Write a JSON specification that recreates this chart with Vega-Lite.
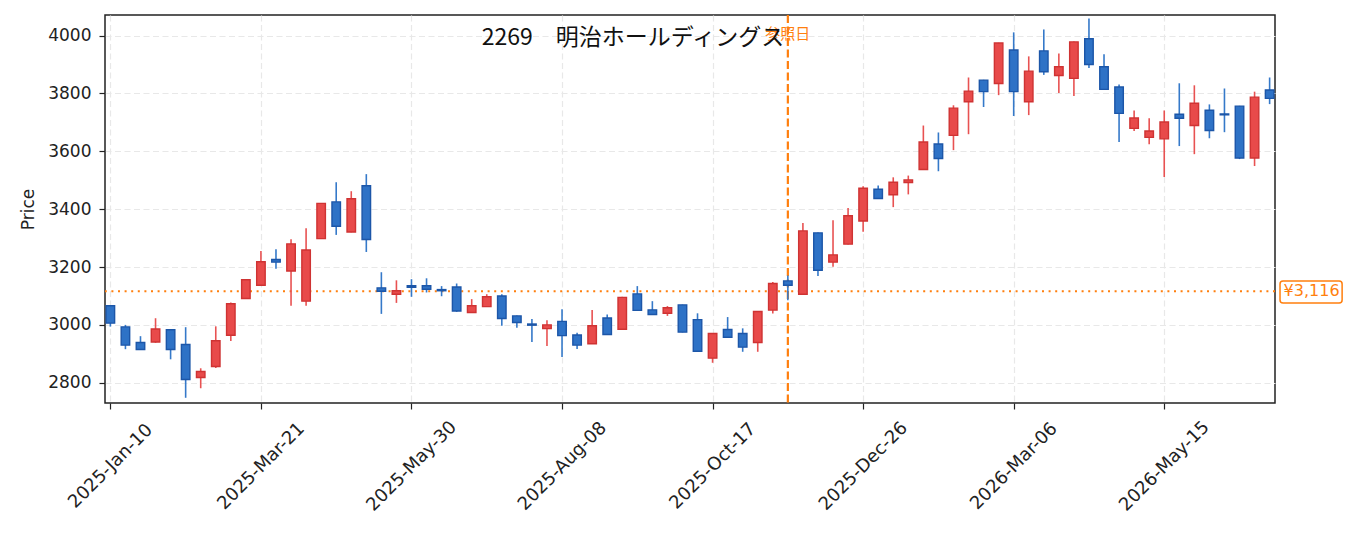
{
  "$schema": "https://vega.github.io/schema/vega-lite/v6.json",
  "width": 1170,
  "height": 388,
  "autosize": "none",
  "padding": {"left": 105, "top": 15, "right": 80, "bottom": 130},
  "background": "white",
  "title": {
    "text": "2269　明治ホールディングス",
    "font": "Noto Sans CJK JP",
    "fontSize": 23,
    "fontWeight": "normal",
    "color": "#111111",
    "anchor": "middle",
    "baseline": "middle",
    "dx": -57,
    "dy": 25,
    "offset": -22
  },
  "datasets": {
    "candles": [
      {"date": "2025-01-10", "open": 3066, "high": 3068, "low": 2994, "close": 3006},
      {"date": "2025-01-17", "open": 2993, "high": 3000, "low": 2916, "close": 2930},
      {"date": "2025-01-24", "open": 2939, "high": 2961, "low": 2914, "close": 2915},
      {"date": "2025-01-31", "open": 2941, "high": 3023, "low": 2938, "close": 2986},
      {"date": "2025-02-07", "open": 2983, "high": 2985, "low": 2881, "close": 2915},
      {"date": "2025-02-14", "open": 2932, "high": 2992, "low": 2748, "close": 2811},
      {"date": "2025-02-21", "open": 2818, "high": 2850, "low": 2781, "close": 2839},
      {"date": "2025-02-28", "open": 2856, "high": 2995, "low": 2851, "close": 2945},
      {"date": "2025-03-07", "open": 2964, "high": 3077, "low": 2944, "close": 3073},
      {"date": "2025-03-14", "open": 3091, "high": 3157, "low": 3090, "close": 3156},
      {"date": "2025-03-21", "open": 3137, "high": 3255, "low": 3136, "close": 3218},
      {"date": "2025-03-28", "open": 3226, "high": 3261, "low": 3194, "close": 3217},
      {"date": "2025-04-04", "open": 3186, "high": 3296, "low": 3066, "close": 3280},
      {"date": "2025-04-11", "open": 3082, "high": 3334, "low": 3066, "close": 3259},
      {"date": "2025-04-18", "open": 3298, "high": 3421, "low": 3297, "close": 3420},
      {"date": "2025-04-25", "open": 3425, "high": 3493, "low": 3311, "close": 3341},
      {"date": "2025-05-02", "open": 3321, "high": 3462, "low": 3320, "close": 3436},
      {"date": "2025-05-09", "open": 3481, "high": 3521, "low": 3252, "close": 3295},
      {"date": "2025-05-16", "open": 3128, "high": 3182, "low": 3038, "close": 3116},
      {"date": "2025-05-23", "open": 3106, "high": 3154, "low": 3076, "close": 3118},
      {"date": "2025-05-30", "open": 3135, "high": 3158, "low": 3097, "close": 3130},
      {"date": "2025-06-06", "open": 3135, "high": 3161, "low": 3112, "close": 3123},
      {"date": "2025-06-13", "open": 3122, "high": 3134, "low": 3099, "close": 3118},
      {"date": "2025-06-20", "open": 3131, "high": 3143, "low": 3045, "close": 3048},
      {"date": "2025-06-27", "open": 3043, "high": 3089, "low": 3042, "close": 3066},
      {"date": "2025-07-04", "open": 3063, "high": 3106, "low": 3062, "close": 3097},
      {"date": "2025-07-11", "open": 3100, "high": 3106, "low": 2997, "close": 3022},
      {"date": "2025-07-18", "open": 3031, "high": 3032, "low": 2990, "close": 3008},
      {"date": "2025-07-25", "open": 3003, "high": 3020, "low": 2941, "close": 2999},
      {"date": "2025-08-01", "open": 2987, "high": 3016, "low": 2927, "close": 3000},
      {"date": "2025-08-08", "open": 3012, "high": 3054, "low": 2889, "close": 2963},
      {"date": "2025-08-15", "open": 2965, "high": 2973, "low": 2917, "close": 2930},
      {"date": "2025-08-22", "open": 2935, "high": 3051, "low": 2934, "close": 2997},
      {"date": "2025-08-29", "open": 3024, "high": 3036, "low": 2966, "close": 2967},
      {"date": "2025-09-05", "open": 2985, "high": 3097, "low": 2983, "close": 3095},
      {"date": "2025-09-12", "open": 3107, "high": 3134, "low": 3049, "close": 3050},
      {"date": "2025-09-19", "open": 3052, "high": 3082, "low": 3035, "close": 3036},
      {"date": "2025-09-26", "open": 3040, "high": 3065, "low": 3031, "close": 3059},
      {"date": "2025-10-03", "open": 3069, "high": 3070, "low": 2974, "close": 2975},
      {"date": "2025-10-10", "open": 3018, "high": 3040, "low": 2908, "close": 2909},
      {"date": "2025-10-17", "open": 2885, "high": 2971, "low": 2869, "close": 2970},
      {"date": "2025-10-24", "open": 2984, "high": 3027, "low": 2956, "close": 2957},
      {"date": "2025-10-31", "open": 2970, "high": 2988, "low": 2907, "close": 2923},
      {"date": "2025-11-07", "open": 2939, "high": 3047, "low": 2907, "close": 3046},
      {"date": "2025-11-14", "open": 3051, "high": 3148, "low": 3039, "close": 3143},
      {"date": "2025-11-21", "open": 3152, "high": 3171, "low": 3085, "close": 3137},
      {"date": "2025-11-28", "open": 3106, "high": 3352, "low": 3105, "close": 3325},
      {"date": "2025-12-05", "open": 3318, "high": 3319, "low": 3169, "close": 3189},
      {"date": "2025-12-12", "open": 3217, "high": 3362, "low": 3201, "close": 3242},
      {"date": "2025-12-19", "open": 3279, "high": 3404, "low": 3278, "close": 3377},
      {"date": "2025-12-26", "open": 3359, "high": 3479, "low": 3322, "close": 3472},
      {"date": "2026-01-02", "open": 3469, "high": 3482, "low": 3436, "close": 3437},
      {"date": "2026-01-09", "open": 3450, "high": 3510, "low": 3407, "close": 3493},
      {"date": "2026-01-16", "open": 3492, "high": 3516, "low": 3451, "close": 3501},
      {"date": "2026-01-23", "open": 3537, "high": 3689, "low": 3536, "close": 3632},
      {"date": "2026-01-30", "open": 3625, "high": 3665, "low": 3531, "close": 3575},
      {"date": "2026-02-06", "open": 3655, "high": 3759, "low": 3604, "close": 3749},
      {"date": "2026-02-13", "open": 3771, "high": 3855, "low": 3659, "close": 3808},
      {"date": "2026-02-20", "open": 3846, "high": 3847, "low": 3753, "close": 3806},
      {"date": "2026-02-27", "open": 3834, "high": 3975, "low": 3794, "close": 3974},
      {"date": "2026-03-06", "open": 3950, "high": 4011, "low": 3722, "close": 3806},
      {"date": "2026-03-13", "open": 3771, "high": 3928, "low": 3725, "close": 3877},
      {"date": "2026-03-20", "open": 3947, "high": 4021, "low": 3864, "close": 3875},
      {"date": "2026-03-27", "open": 3862, "high": 3938, "low": 3801, "close": 3892},
      {"date": "2026-04-03", "open": 3852, "high": 3979, "low": 3791, "close": 3978},
      {"date": "2026-04-10", "open": 3989, "high": 4059, "low": 3888, "close": 3900},
      {"date": "2026-04-17", "open": 3892, "high": 3935, "low": 3813, "close": 3814},
      {"date": "2026-04-24", "open": 3822, "high": 3831, "low": 3632, "close": 3731},
      {"date": "2026-05-01", "open": 3679, "high": 3741, "low": 3670, "close": 3715},
      {"date": "2026-05-08", "open": 3648, "high": 3714, "low": 3624, "close": 3670},
      {"date": "2026-05-15", "open": 3643, "high": 3741, "low": 3511, "close": 3701},
      {"date": "2026-05-22", "open": 3728, "high": 3835, "low": 3618, "close": 3714},
      {"date": "2026-05-29", "open": 3689, "high": 3828, "low": 3590, "close": 3766},
      {"date": "2026-06-05", "open": 3742, "high": 3762, "low": 3645, "close": 3672},
      {"date": "2026-06-12", "open": 3729, "high": 3817, "low": 3666, "close": 3726},
      {"date": "2026-06-19", "open": 3756, "high": 3757, "low": 3573, "close": 3577},
      {"date": "2026-06-26", "open": 3577, "high": 3806, "low": 3549, "close": 3787},
      {"date": "2026-07-03", "open": 3812, "high": 3855, "low": 3763, "close": 3783}
    ],
    "events": [{"date": "2025-11-21", "label": "参照日"}],
    "refs": [{"price": 3116, "label": "¥3,116"}]
  },
  "layer": [
    {
      "data": {"name": "refs"},
      "mark": {"type": "rule", "color": "#ff7f0e", "strokeWidth": 2, "strokeDash": [2, 4.6]},
      "encoding": {
        "y": {"field": "price", "type": "quantitative"}
      }
    },
    {
      "data": {"name": "events"},
      "mark": {"type": "rule", "color": "#ff7f0e", "strokeWidth": 2.2, "strokeDash": [8, 3.5]},
      "encoding": {
        "x": {"field": "date", "type": "temporal"}
      }
    },
    {
      "data": {"name": "candles"},
      "mark": {"type": "rule", "strokeWidth": 1.6},
      "encoding": {
        "x": {
          "field": "date",
          "type": "temporal",
          "title": null,
          "scale": {
            "type": "utc",
            "padding": 0,
            "domain": [
              {"year": 2025, "month": 1, "date": 7, "hours": 12, "utc": true},
              {"year": 2026, "month": 7, "date": 5, "hours": 12, "utc": true}
            ]
          },
          "axis": {
            "values": [
              {"year": 2025, "month": 1, "date": 10, "utc": true},
              {"year": 2025, "month": 3, "date": 21, "utc": true},
              {"year": 2025, "month": 5, "date": 30, "utc": true},
              {"year": 2025, "month": 8, "date": 8, "utc": true},
              {"year": 2025, "month": 10, "date": 17, "utc": true},
              {"year": 2025, "month": 12, "date": 26, "utc": true},
              {"year": 2026, "month": 3, "date": 6, "utc": true},
              {"year": 2026, "month": 5, "date": 15, "utc": true}
            ],
            "format": "%Y-%b-%d",
            "labelAngle": -45,
            "labelAlign": "center",
            "labelBaseline": "middle",
            "labelPadding": 57,
            "labelOverlap": false,
            "labelFontSize": 18
          }
        },
        "y": {
          "field": "low",
          "type": "quantitative",
          "title": "Price",
          "scale": {"domain": [2730, 4071], "nice": false, "zero": false},
          "axis": {"values": [2800, 3000, 3200, 3400, 3600, 3800, 4000], "format": "d"}
        },
        "y2": {"field": "high"},
        "color": {
          "condition": {"test": "datum.close >= datum.open", "value": "#e85252"},
          "value": "#3579c9"
        }
      }
    },
    {
      "data": {"name": "candles"},
      "mark": {"type": "bar", "size": 8.5, "strokeWidth": 1.4},
      "encoding": {
        "x": {"field": "date", "type": "temporal"},
        "y": {"field": "open", "type": "quantitative"},
        "y2": {"field": "close"},
        "fill": {
          "condition": {"test": "datum.close >= datum.open", "value": "#e84a4a"},
          "value": "#2e72c6"
        },
        "stroke": {
          "condition": {"test": "datum.close >= datum.open", "value": "#cf3333"},
          "value": "#1c56a8"
        }
      }
    },
    {
      "data": {"name": "events"},
      "mark": {"type": "text", "color": "#ff7f0e", "font": "Noto Sans CJK JP", "fontSize": 15, "align": "center", "baseline": "middle"},
      "encoding": {
        "x": {"field": "date", "type": "temporal"},
        "y": {"datum": 4006, "type": "quantitative"},
        "text": {"field": "label"}
      }
    },
    {
      "data": {"name": "refs"},
      "mark": {"type": "rect", "fill": "white", "stroke": "#ff7f0e", "strokeWidth": 1.5, "cornerRadius": 3},
      "encoding": {
        "x": {"datum": {"year": 2026, "month": 7, "date": 7, "hours": 20, "utc": true}, "type": "temporal"},
        "x2": {"datum": {"year": 2026, "month": 8, "date": 5, "hours": 17, "utc": true}},
        "y": {"datum": 3152, "type": "quantitative"},
        "y2": {"datum": 3076}
      }
    },
    {
      "data": {"name": "refs"},
      "mark": {"type": "text", "color": "#ff7f0e", "font": "DejaVu Sans", "fontSize": 16, "align": "center", "baseline": "middle"},
      "encoding": {
        "x": {"datum": {"year": 2026, "month": 7, "date": 22, "hours": 12, "utc": true}, "type": "temporal"},
        "y": {"field": "price", "type": "quantitative"},
        "text": {"field": "label"}
      }
    }
  ],
  "config": {
    "font": "DejaVu Sans",
    "view": {"stroke": "#222222", "strokeWidth": 1.5},
    "axis": {
      "domain": false,
      "grid": true,
      "gridColor": "#e8e8e8",
      "gridDash": [6, 3.5],
      "gridWidth": 1.2,
      "tickColor": "#222222",
      "tickSize": 6,
      "tickWidth": 1.2,
      "labelColor": "#222222",
      "labelFont": "DejaVu Sans",
      "labelFontSize": 17,
      "labelPadding": 8,
      "titleFont": "DejaVu Sans",
      "titleFontSize": 17,
      "titleFontWeight": "normal",
      "titleColor": "#222222",
      "titlePadding": 10
    }
  }
}
